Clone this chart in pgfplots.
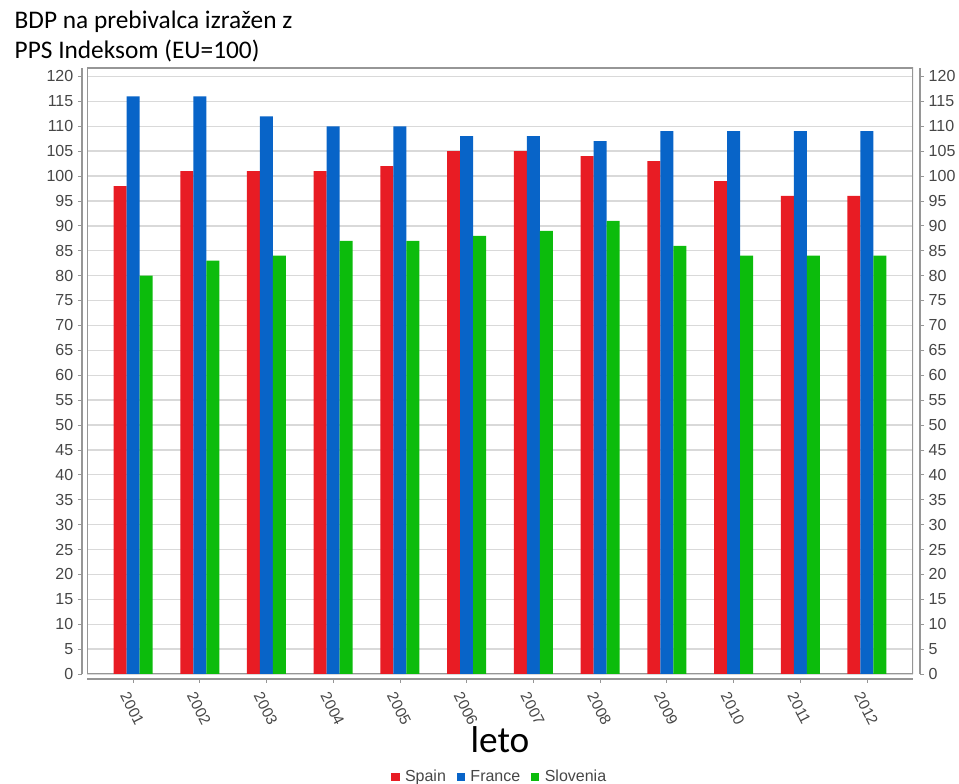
\documentclass[border=0pt]{standalone}
\usepackage{pgfplots}
\pgfplotsset{compat=1.18}
\usepackage{pgfplotstable}
\usepackage{fontspec}
\setmainfont{Carlito}
\newfontfamily\arialfont{Liberation Sans}

\definecolor{cSpain}{RGB}{232,28,36}
\definecolor{cFrance}{RGB}{8,100,200}
\definecolor{cSlov}{RGB}{12,188,12}
\definecolor{axgray}{RGB}{150,150,150}
\definecolor{lblgray}{RGB}{70,70,70}

% year index, Spain, France, Slovenia
\pgfplotstableread{
x Spain France Slovenia
0  98 116 80
1 101 116 83
2 101 112 84
3 101 110 87
4 102 110 87
5 105 108 88
6 105 108 89
7 104 107 91
8 103 109 86
9  99 109 84
10 96 109 84
11 96 109 84
}\gdp

\pgfplotsset{
  common/.style={
    at={(0pt,0pt)}, anchor=south west,
    scale only axis, width=619.5pt, height=454.5pt,
    xmin=-0.69, xmax=11.69, ymin=0, ymax=121.7,
    ytick={0,5,...,120},
    axis line style={-, draw=axgray, line width=0.8pt},
    tick align=outside, major tick length=3pt,
    tick style={axgray, line width=0.6pt},
    /pgf/number format/assume math mode=true,
    ticklabel style={font=\arialfont\fontsize{12}{14}\selectfont, text=lblgray},
  },
}

\begin{document}
\begin{tikzpicture}
\path[use as bounding box] (-65.25pt,-82.5pt) rectangle (654pt,505.5pt);

\begin{axis}[
  common,
  axis x line*=bottom, axis y line*=left,
  axis x line shift=3.75pt, axis y line shift=3.75pt,
  xtick={0,...,11},
  xticklabels={2001,2002,2003,2004,2005,2006,2007,2008,2009,2010,2011,2012},
  xticklabel style={rotate=-63, anchor=north west, inner sep=1pt, xshift=3pt, yshift=-4pt,
    font=\arialfont\fontsize{11.5}{13}\selectfont},
  ymajorgrids, grid style={gray!30, line width=1pt},
  ybar=0pt, bar width=9.75pt,
  legend style={at={(0.5,-0.17)}, anchor=center, draw=none, fill=none,
    font=\arialfont\fontsize{12}{14}\selectfont, text=lblgray,
    /tikz/every odd column/.append style={column sep=2pt},
    /tikz/every even column/.append style={column sep=6pt}},
  legend columns=3,
  legend image code/.code={\fill[#1] (0pt,-3.2pt) rectangle (6.4pt,3.2pt);},
]
\draw[axgray, line width=0.8pt] (rel axis cs:0,0) rectangle (rel axis cs:1,1);
\addplot[fill=cSpain, draw=none] table[x=x, y=Spain] {\gdp};
\addlegendentry{Spain}
\addplot[fill=cFrance, draw=none] table[x=x, y=France] {\gdp};
\addlegendentry{France}
\addplot[fill=cSlov, draw=none] table[x=x, y=Slovenia] {\gdp};
\addlegendentry{Slovenia}
\end{axis}

\begin{axis}[
  common,
  axis x line=none, axis y line*=right,
  axis y line shift=5.25pt,
]
\end{axis}

\node[anchor=base west, font=\fontsize{19}{22}\selectfont] at (-57.75pt,483.75pt) {BDP na prebivalca izražen z};
\node[anchor=base west, font=\fontsize{19}{22}\selectfont] at (-57.75pt,461.25pt) {PPS Indeksom (EU=100)};
\node[anchor=base, font=\fontsize{28}{32}\selectfont] at (309.75pt,-59.25pt) {leto};
\end{tikzpicture}
\end{document}
